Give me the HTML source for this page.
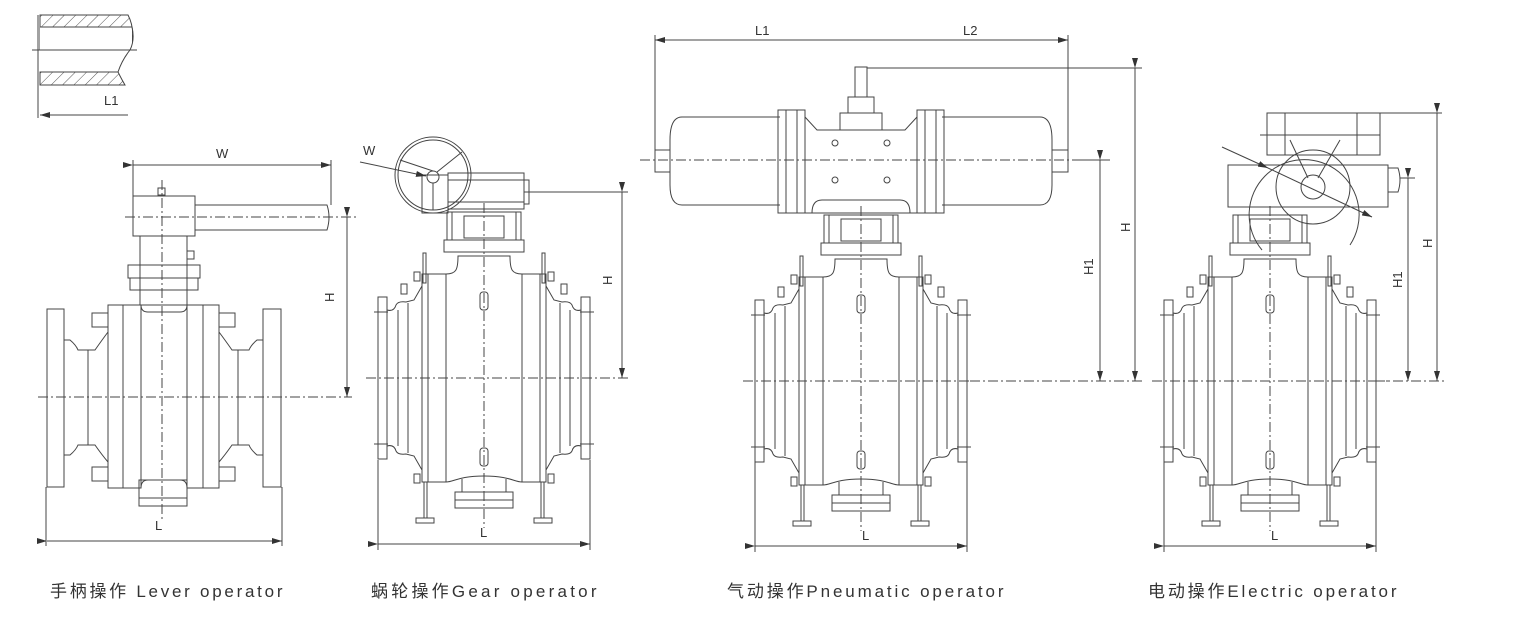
<!DOCTYPE html>
<html><head><meta charset="utf-8"><style>
html,body{margin:0;padding:0;background:#fff;}
svg{display:block;}
text{font-family:"Liberation Sans","Noto Sans CJK SC",sans-serif;fill:#333;}
.cap{font-size:17px;letter-spacing:2.5px;}
</style></head><body>
<svg width="1529" height="635" viewBox="0 0 1529 635" xmlns="http://www.w3.org/2000/svg">
<defs>
<marker id="ar" markerWidth="10" markerHeight="6" refX="10" refY="3" orient="auto" markerUnits="userSpaceOnUse"><path d="M0,0 L10,3 L0,6 z" fill="#333"/></marker>
<pattern id="hatch" width="8" height="8" patternUnits="userSpaceOnUse" patternTransform="rotate(45)"><line x1="0" y1="0" x2="0" y2="8" stroke="#555" stroke-width="1"/></pattern>
<g id="half" fill="none" stroke="#444" stroke-width="1">
<rect x="-106" y="-81" width="9" height="162"/>
<path d="M-97,-68 Q-90,-66 -88,-73 Q-86,-77 -78,-76 L-70,-78 L-62,-92"/>
<path d="M-97,68 Q-90,66 -88,73 Q-86,77 -78,76 L-70,78 L-62,92"/>
<line x1="-86" y1="-68" x2="-86" y2="68"/>
<line x1="-76" y1="-75" x2="-76" y2="75"/>
<rect x="-62" y="-104" width="6" height="208"/>
<rect x="-56" y="-104" width="18" height="208"/>
<rect x="-61" y="-125" width="3" height="30"/>
<rect x="-70" y="-106" width="6" height="9"/>
<rect x="-83" y="-94" width="6" height="10"/>
<rect x="-70" y="96" width="6" height="9"/>
<line x1="-60" y1="104" x2="-60" y2="140"/>
<line x1="-57" y1="104" x2="-57" y2="140"/>
<rect x="-68" y="140" width="18" height="5"/>
<line x1="-110" y1="-66" x2="-96" y2="-66"/>
<line x1="-110" y1="66" x2="-96" y2="66"/>
</g>
<g id="body" fill="none" stroke="#444" stroke-width="1">
<use href="#half"/>
<use href="#half" transform="scale(-1,1)"/>
<path d="M-38,-104 C-28,-104 -26,-108 -26,-122 L26,-122 C26,-108 28,-104 38,-104"/>
<path d="M-38,104 C-30,104 -26,98 0,98 C26,98 30,104 38,104"/>
<line x1="-22" y1="101" x2="-22" y2="114"/><line x1="22" y1="101" x2="22" y2="114"/>
<rect x="-29" y="114" width="58" height="16"/>
<line x1="-29" y1="122" x2="29" y2="122"/>
<rect x="-4" y="-86" width="8" height="18" rx="3"/>
<rect x="-4" y="70" width="8" height="18" rx="3"/>
<rect x="-40" y="-138" width="80" height="12"/>
<rect x="-37" y="-166" width="74" height="28"/>
<rect x="-20" y="-162" width="40" height="22"/>
<line x1="-32" y1="-166" x2="-32" y2="-138"/><line x1="32" y1="-166" x2="32" y2="-138"/>
<line x1="0" y1="-175" x2="0" y2="150" stroke-dasharray="10,3,2,3"/>
<line x1="-118" y1="0" x2="118" y2="0" stroke-dasharray="10,3,2,3"/>
</g>
</defs>

<!-- inset -->
<g fill="none" stroke="#444" stroke-width="1">
<path d="M40,15 L128,15 Q136,30 130,50 L40,50 Z" fill="url(#hatch)"/>
<rect x="40" y="27" width="92" height="46" fill="#fff" stroke="none"/>
<path d="M40,27 L132,27 Q135,40 130,50"/>
<path d="M40,72 L118,72 Q122,80 125,85 L40,85 Z" fill="url(#hatch)"/>
<path d="M130,50 Q122,60 118,72"/>
<line x1="38" y1="15" x2="38" y2="118"/>
<line x1="32" y1="50" x2="137" y2="50"/>
<line x1="128" y1="115" x2="40" y2="115" marker-end="url(#ar)"/>
</g>
<text x="104" y="105" font-size="13">L1</text>

<!-- Lever valve -->
<g fill="none" stroke="#444" stroke-width="1">
<rect x="47" y="309" width="17" height="178"/>
<rect x="263" y="309" width="18" height="178"/>
<path d="M64,340 L70,340 Q76,345 78,350 L95,350 Q102,340 108,332"/>
<path d="M64,455 L70,455 Q76,450 78,445 L95,445 Q102,455 108,462"/>
<path d="M263,340 L257,340 Q251,345 249,350 L232,350 Q225,340 219,332"/>
<path d="M263,455 L257,455 Q251,450 249,445 L232,445 Q225,455 219,462"/>
<line x1="88" y1="350" x2="88" y2="445"/><line x1="238" y1="350" x2="238" y2="445"/>
<rect x="108" y="305" width="15" height="183"/>
<rect x="123" y="305" width="18" height="183"/>
<rect x="187" y="305" width="16" height="183"/>
<rect x="203" y="305" width="16" height="183"/>
<path d="M141,305 Q141,312 148,312 L180,312 Q187,312 187,305"/>
<path d="M141,488 Q141,480 148,480 L180,480 Q187,480 187,488"/>
<rect x="139" y="480" width="48" height="26"/>
<line x1="139" y1="498" x2="187" y2="498"/>
<rect x="92" y="313" width="16" height="14"/><rect x="92" y="467" width="16" height="14"/>
<rect x="219" y="313" width="16" height="14"/><rect x="219" y="467" width="16" height="14"/>
<rect x="140" y="236" width="47" height="69"/>
<rect x="128" y="265" width="72" height="13"/>
<rect x="130" y="278" width="68" height="12"/>
<rect x="187" y="251" width="7" height="8"/>
<rect x="133" y="196" width="62" height="40"/>
<path d="M195,205 L327,205 Q331,217 327,230 L195,230"/>
<rect x="158" y="188" width="7" height="7"/>
<line x1="162" y1="180" x2="162" y2="520" stroke-dasharray="10,3,2,3"/>
<line x1="38" y1="397" x2="352" y2="397" stroke-dasharray="10,3,2,3"/>
<line x1="125" y1="217" x2="357" y2="217" stroke-dasharray="10,3,2,3"/>
<line x1="133" y1="160" x2="133" y2="196"/><line x1="331" y1="160" x2="331" y2="205"/>
<line x1="133" y1="165" x2="331" y2="165" marker-end="url(#ar)" marker-start="url(#ar)"/>
<line x1="347" y1="217" x2="347" y2="397" marker-end="url(#ar)" marker-start="url(#ar)"/>
<line x1="46" y1="487" x2="46" y2="546"/><line x1="282" y1="487" x2="282" y2="546"/>
<line x1="47" y1="541" x2="282" y2="541" marker-end="url(#ar)" marker-start="url(#ar)"/>
</g>
<text x="216" y="158" font-size="13">W</text>
<text x="155" y="530" font-size="13">L</text>
<text x="0" y="0" font-size="13" transform="translate(334,302) rotate(-90)">H</text>

<!-- Gear valve -->
<use href="#body" transform="translate(484,378)"/>
<g fill="none" stroke="#444" stroke-width="1">
<rect x="448" y="173" width="76" height="36"/>
<rect x="524" y="180" width="5" height="24"/>
<line x1="448" y1="180" x2="524" y2="180"/><line x1="448" y1="202" x2="524" y2="202"/>
<rect x="422" y="175" width="26" height="38"/>
<circle cx="433" cy="175" r="38" fill="none"/>
<circle cx="433" cy="175" r="35"/>
<circle cx="433" cy="177" r="6"/>
<line x1="433" y1="171" x2="400" y2="160"/><line x1="437" y1="172" x2="462" y2="152"/><line x1="433" y1="183" x2="433" y2="210"/>
<line x1="360" y1="162" x2="426" y2="176" marker-end="url(#ar)"/>
<line x1="524" y1="192" x2="628" y2="192"/>
<line x1="600" y1="378" x2="630" y2="378" stroke-dasharray="10,3,2,3"/>
<line x1="622" y1="192" x2="622" y2="378" marker-end="url(#ar)" marker-start="url(#ar)"/>
<line x1="378" y1="460" x2="378" y2="550"/><line x1="590" y1="460" x2="590" y2="550"/>
<line x1="378" y1="544" x2="590" y2="544" marker-end="url(#ar)" marker-start="url(#ar)"/>
</g>
<text x="363" y="155" font-size="13">W</text>
<text x="480" y="537" font-size="13">L</text>
<text x="0" y="0" font-size="13" transform="translate(612,285) rotate(-90)">H</text>

<!-- Pneumatic valve -->
<use href="#body" transform="translate(861,381)"/>
<g fill="none" stroke="#444" stroke-width="1">
<path d="M780,117 L682,117 Q670,117 670,140 L670,185 Q670,205 682,205 L780,205"/>
<path d="M942,117 L1040,117 Q1052,117 1052,140 L1052,185 Q1052,205 1040,205 L942,205"/>
<rect x="655" y="150" width="15" height="22"/><rect x="1052" y="150" width="16" height="22"/>
<rect x="778" y="110" width="27" height="103"/>
<rect x="917" y="110" width="27" height="103"/>
<line x1="786" y1="110" x2="786" y2="213"/><line x1="797" y1="110" x2="797" y2="213"/>
<line x1="925" y1="110" x2="925" y2="213"/><line x1="936" y1="110" x2="936" y2="213"/>
<path d="M805,117 L817,130 L905,130 L917,117"/>
<line x1="805" y1="213" x2="917" y2="213"/>
<path d="M812,213 Q812,200 822,200 L900,200 Q910,200 910,213"/>
<rect x="840" y="113" width="42" height="17"/>
<rect x="848" y="97" width="26" height="16"/>
<rect x="855" y="67" width="12" height="30"/>
<circle cx="835" cy="143" r="3"/><circle cx="887" cy="143" r="3"/>
<circle cx="835" cy="180" r="3"/><circle cx="887" cy="180" r="3"/>
<line x1="640" y1="160" x2="1080" y2="160" stroke-dasharray="10,3,2,3"/>
<line x1="655" y1="35" x2="655" y2="150"/><line x1="1068" y1="35" x2="1068" y2="150"/>
<line x1="861" y1="40" x2="655" y2="40" marker-end="url(#ar)"/>
<line x1="861" y1="40" x2="1068" y2="40" marker-end="url(#ar)"/>
<line x1="867" y1="68" x2="1142" y2="68"/>
<line x1="1080" y1="160" x2="1110" y2="160"/>
<line x1="970" y1="381" x2="1142" y2="381" stroke-dasharray="10,3,2,3"/>
<line x1="1135" y1="68" x2="1135" y2="381" marker-end="url(#ar)" marker-start="url(#ar)"/>
<line x1="1100" y1="160" x2="1100" y2="381" marker-end="url(#ar)" marker-start="url(#ar)"/>
<line x1="755" y1="462" x2="755" y2="552"/><line x1="967" y1="462" x2="967" y2="552"/>
<line x1="755" y1="546" x2="967" y2="546" marker-end="url(#ar)" marker-start="url(#ar)"/>
</g>
<text x="755" y="35" font-size="13">L1</text>
<text x="963" y="35" font-size="13">L2</text>
<text x="862" y="540" font-size="13">L</text>
<text x="0" y="0" font-size="13" transform="translate(1130,232) rotate(-90)">H</text>
<text x="0" y="0" font-size="13" transform="translate(1093,275) rotate(-90)">H1</text>

<!-- Electric valve -->
<use href="#body" transform="translate(1270,381)"/>
<g fill="none" stroke="#444" stroke-width="1">
<rect x="1267" y="113" width="113" height="42"/>
<line x1="1285" y1="113" x2="1285" y2="155"/><line x1="1357" y1="113" x2="1357" y2="155"/>
<line x1="1260" y1="135" x2="1380" y2="135"/>
<rect x="1228" y="165" width="160" height="42"/>
<path d="M1388,168 L1398,168 Q1402,180 1398,192 L1388,192"/>
<path d="M1262,250 A55,55 0 1,1 1350,245"/>
<circle cx="1313" cy="187" r="37"/>
<circle cx="1313" cy="187" r="12"/>
<line x1="1290" y1="140" x2="1308" y2="178"/><line x1="1340" y1="140" x2="1318" y2="178"/>
<line x1="1222" y1="147" x2="1268" y2="168" marker-end="url(#ar)"/>
<line x1="1268" y1="168" x2="1372" y2="217" marker-end="url(#ar)"/>
<line x1="1380" y1="113" x2="1442" y2="113"/>
<line x1="1400" y1="178" x2="1415" y2="178"/>
<line x1="1375" y1="381" x2="1445" y2="381" stroke-dasharray="10,3,2,3"/>
<line x1="1437" y1="113" x2="1437" y2="381" marker-end="url(#ar)" marker-start="url(#ar)"/>
<line x1="1408" y1="178" x2="1408" y2="381" marker-end="url(#ar)" marker-start="url(#ar)"/>
<line x1="1164" y1="462" x2="1164" y2="552"/><line x1="1376" y1="462" x2="1376" y2="552"/>
<line x1="1164" y1="546" x2="1376" y2="546" marker-end="url(#ar)" marker-start="url(#ar)"/>
</g>
<text x="1271" y="540" font-size="13">L</text>
<text x="0" y="0" font-size="13" transform="translate(1432,248) rotate(-90)">H</text>
<text x="0" y="0" font-size="13" transform="translate(1402,288) rotate(-90)">H1</text>

<!-- captions -->
<text class="cap" x="50" y="597" textLength="235" lengthAdjust="spacing">手柄操作 Lever operator</text>
<text class="cap" x="371" y="597" textLength="228" lengthAdjust="spacing">蜗轮操作Gear operator</text>
<text class="cap" x="727" y="597" textLength="279" lengthAdjust="spacing">气动操作Pneumatic operator</text>
<text class="cap" x="1148" y="597" textLength="251" lengthAdjust="spacing">电动操作Electric operator</text>
</svg>
</body></html>
